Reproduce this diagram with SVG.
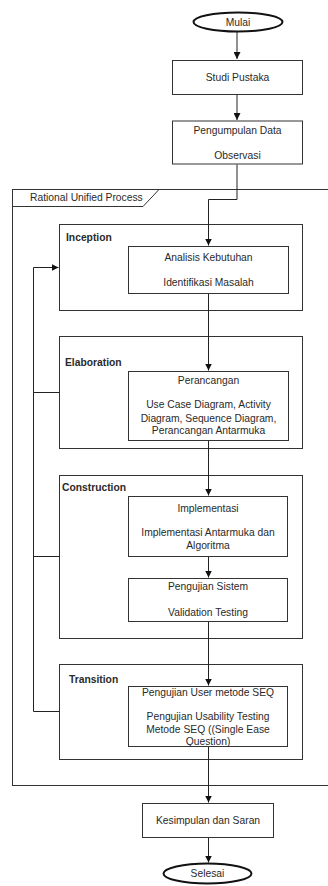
<svg xmlns="http://www.w3.org/2000/svg" width="328" height="886" viewBox="0 0 328 886">
<style>
.box{fill:#fff;stroke:#333;stroke-width:1}
.phase{fill:none;stroke:#333;stroke-width:1}
.term{fill:#fff;stroke:#111;stroke-width:2}
.t{font-family:"Liberation Sans",Arial,sans-serif;font-size:10.3px;fill:#2a2a2a;text-anchor:middle}
.b{font-family:"Liberation Sans",Arial,sans-serif;font-size:10.3px;font-weight:bold;fill:#2a2a2a}
.l{font-family:"Liberation Sans",Arial,sans-serif;font-size:10.3px;fill:#2a2a2a}
.c{fill:none;stroke:#222;stroke-width:1}
</style>
<defs>
<marker id="ah" viewBox="0 0 10 10" refX="10" refY="5" markerWidth="7" markerHeight="7" markerUnits="userSpaceOnUse" orient="auto">
<path d="M0,0 L10,5 L0,10 Z" fill="#111"/>
</marker>
</defs>

<g id="rup">
<rect x="12.5" y="189.5" width="330" height="596" class="phase"/>
<path d="M12.5,206.5 H143 L159,189.5" class="phase"/>
<text x="30" y="201" class="l">Rational Unified Process</text>
</g>

<g id="inception">
<rect x="59.5" y="224.5" width="243" height="86" class="phase"/>
<text x="66" y="241" class="b">Inception</text>
</g>
<g id="elaboration">
<rect x="59.5" y="336.5" width="243" height="112" class="phase"/>
<text x="65" y="365.5" class="b">Elaboration</text>
</g>
<g id="construction">
<rect x="59.5" y="475.5" width="243" height="163" class="phase"/>
<text x="62" y="490.5" class="b">Construction</text>
</g>
<g id="transition">
<rect x="59.5" y="664.5" width="243" height="95" class="phase"/>
<text x="69" y="682.5" class="b">Transition</text>
</g>

<g id="connectors">
<path d="M237,32 V59" class="c" marker-end="url(#ah)"/>
<path d="M237,94.5 V120" class="c" marker-end="url(#ah)"/>
<path d="M237,164.5 V199.5 H208.5 V245.5" class="c" marker-end="url(#ah)"/>
<path d="M208.5,293.5 V370.5" class="c" marker-end="url(#ah)"/>
<path d="M208.5,441 V495.5" class="c" marker-end="url(#ah)"/>
<path d="M208.5,557 V577.5" class="c" marker-end="url(#ah)"/>
<path d="M208.5,622 V685.5" class="c" marker-end="url(#ah)"/>
<path d="M208.5,747 V802.5" class="c" marker-end="url(#ah)"/>
<path d="M208.5,837.5 V862.5" class="c" marker-end="url(#ah)"/>
<path d="M59.5,711.5 H33.5 V267.5 H58.5" class="c" marker-end="url(#ah)"/>
<path d="M59.5,392.5 H33.5" class="c"/>
<path d="M59.5,556.5 H33.5" class="c"/>
</g>

<g id="mulai">
<ellipse cx="238" cy="22" rx="44.5" ry="9.5" class="term"/>
<text x="238" y="25.6" class="t">Mulai</text>
</g>
<g id="studi">
<rect x="172.5" y="60.5" width="130" height="34" class="box"/>
<text x="237.5" y="81" class="t">Studi Pustaka</text>
</g>
<g id="pengumpulan">
<rect x="172.5" y="121" width="130" height="43" class="box"/>
<text x="237.5" y="133.8" class="t">Pengumpulan Data</text>
<text x="237.5" y="158.6" class="t">Observasi</text>
</g>
<g id="analisis">
<rect x="128.5" y="246.5" width="160" height="47" class="box"/>
<text x="208.5" y="260.9" class="t">Analisis Kebutuhan</text>
<text x="208.5" y="285.9" class="t">Identifikasi Masalah</text>
</g>
<g id="perancangan">
<rect x="128.5" y="371.5" width="160" height="69" class="box"/>
<text x="208.5" y="384.3" class="t">Perancangan</text>
<text x="208.5" y="407.9" class="t">Use Case Diagram, Activity</text>
<text x="208.5" y="421.9" class="t">Diagram, Sequence Diagram,</text>
<text x="208.5" y="433.6" class="t">Perancangan Antarmuka</text>
</g>
<g id="implementasi">
<rect x="128.5" y="496.5" width="159" height="60" class="box"/>
<text x="208" y="511.9" class="t">Implementasi</text>
<text x="208" y="536.3" class="t">Implementasi Antarmuka dan</text>
<text x="208" y="549.3" class="t">Algoritma</text>
</g>
<g id="pengujian-sistem">
<rect x="128.5" y="578.5" width="159" height="43" class="box"/>
<text x="208" y="590.3" class="t">Pengujian Sistem</text>
<text x="208" y="615.9" class="t">Validation Testing</text>
</g>
<g id="pengujian-user">
<rect x="128.5" y="686.5" width="159" height="60" class="box"/>
<text x="208" y="695.9" class="t">Pengujian User metode SEQ</text>
<text x="208" y="719.6" class="t">Pengujian Usability Testing</text>
<text x="208" y="732.9" class="t">Metode SEQ ((Single Ease</text>
<text x="208" y="744.6" class="t">Question)</text>
</g>
<g id="kesimpulan">
<rect x="142.5" y="803.5" width="131" height="34" class="box"/>
<text x="208" y="823.6" class="t">Kesimpulan dan Saran</text>
</g>
<g id="selesai">
<ellipse cx="207.5" cy="873.5" rx="44" ry="10" class="term"/>
<text x="207.5" y="877.1" class="t">Selesai</text>
</g>
</svg>
